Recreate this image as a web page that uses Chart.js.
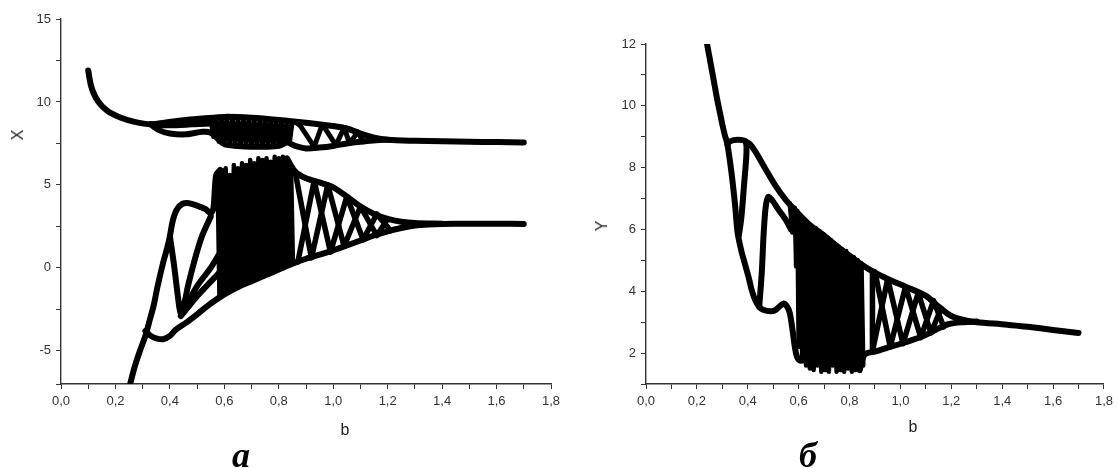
<!DOCTYPE html>
<html>
<head>
<meta charset="utf-8">
<script src="https://cdn.jsdelivr.net/npm/chart.js@4.4.1/dist/chart.umd.min.js"></script>
<style>
  html, body { margin: 0; padding: 0; background: #fff; }
  body { width: 1118px; height: 468px; position: relative; overflow: hidden; font-family: 'Liberation Sans', Arial, sans-serif; }
  .box { position: absolute; top: 0; height: 468px; }
  #boxX { left: 0; width: 600px; }
  #boxY { left: 560px; width: 558px; }
  .lbl { position: absolute; color: #222; font-size: 16px; line-height: 1; transform: translate(-50%, -50%); }
  .rot { transform: translate(-50%, -50%) rotate(-90deg); }
  .cap { position: absolute; font-family: 'Liberation Serif', 'DejaVu Serif', serif; font-weight: bold; font-style: italic; font-size: 36px; line-height: 1; transform: translateX(-50%); }
</style>
</head>
<body>
<div class="box" id="boxX"><canvas id="chartX" width="600" height="468"></canvas></div>
<div class="box" id="boxY"><canvas id="chartY" width="558" height="468"></canvas></div>
<span class="lbl rot" style="left:18px; top:135px;">X</span>
<span class="lbl" style="left:345px; top:430px;">b</span>
<span class="lbl rot" style="left:602px; top:226px;">Y</span>
<span class="lbl" style="left:913px; top:427px;">b</span>
<span class="cap" style="left:241px; top:437px;">а</span>
<span class="cap" style="left:808px; top:437px;">б</span>
<script>
// ---- X(b) branches, pairs of [b, X] ----
const xStem = [[0.10,11.9],[0.105,11.4],[0.11,11.0],[0.118,10.6],[0.13,10.2],[0.145,9.85],[0.16,9.6],[0.18,9.35],[0.22,9.05],[0.27,8.8],[0.33,8.65],[0.38,8.75],[0.45,8.9],[0.52,9.0],[0.6,9.1],[0.7,9.05],[0.8,8.92],[0.9,8.75],[1.0,8.55],[1.05,8.4],[1.1,8.1],[1.15,7.85],[1.2,7.72],[1.3,7.66],[1.4,7.63],[1.5,7.6],[1.6,7.58],[1.7,7.56]];
const xUpperInner = [[0.33,8.65],[0.4,8.6],[0.48,8.65],[0.55,8.7],[0.6,8.7]];
const xUpperLow = [[0.33,8.65],[0.36,8.3],[0.4,8.1],[0.46,8.05],[0.52,8.2],[0.55,8.15],[0.575,7.8],[0.6,7.45],[0.65,7.35],[0.7,7.3],[0.75,7.3],[0.8,7.35],[0.83,7.55],[0.86,7.35],[0.9,7.2],[0.95,7.25],[1.0,7.35],[1.05,7.5],[1.1,7.6],[1.17,7.7],[1.2,7.72]];
const xUpperChaos = [[0.55,8.95],[0.56,7.9],[0.57,9.0],[0.58,7.6],[0.59,9.05],[0.6,7.45],[0.61,9.05],[0.62,7.4],[0.63,9.1],[0.64,7.38],[0.65,9.05],[0.66,7.35],[0.67,9.05],[0.68,7.35],[0.69,9.05],[0.7,7.3],[0.71,9.0],[0.72,7.3],[0.73,9.0],[0.74,7.3],[0.75,9.0],[0.76,7.3],[0.77,8.95],[0.78,7.32],[0.79,8.95],[0.8,7.35],[0.81,8.9],[0.82,7.45],[0.83,8.85],[0.84,7.55],[0.85,8.8]];
const xUpperCross = [[0.86,8.8],[0.88,8.55],[0.93,7.3],[0.96,8.65],[1.01,7.4],[1.04,8.45],[1.06,7.5],[1.09,8.2],[1.11,7.6]];

const xRise = [[0.254,-7],[0.27,-6.0],[0.29,-5.0],[0.31,-4.1],[0.325,-3.2],[0.34,-2.3],[0.355,-1.1],[0.375,0.3],[0.39,1.2],[0.40,1.9],[0.41,2.8],[0.425,3.5],[0.445,3.85],[0.47,3.9],[0.5,3.75],[0.53,3.55],[0.55,3.3],[0.56,3.6],[0.57,5.6],[0.585,5.9]];
const xVee = [[0.40,1.9],[0.415,0.2],[0.43,-1.8],[0.44,-2.8],[0.455,-2.0],[0.465,-1.2],[0.48,-0.2],[0.5,1.0],[0.52,2.0],[0.55,3.1]];
const xLowerEnv = [[0.31,-3.8],[0.33,-4.1],[0.35,-4.25],[0.375,-4.3],[0.40,-4.1],[0.42,-3.75],[0.46,-3.3],[0.5,-2.8],[0.55,-2.15],[0.6,-1.6],[0.65,-1.15],[0.7,-0.8],[0.75,-0.45],[0.8,-0.1],[0.85,0.25],[0.9,0.55],[0.95,0.8],[1.0,1.05],[1.05,1.35],[1.1,1.65],[1.15,1.95],[1.2,2.2],[1.25,2.4],[1.3,2.55],[1.35,2.62],[1.4,2.65],[1.5,2.66],[1.6,2.66],[1.7,2.65]];
const xBand1 = [[0.44,-2.9],[0.47,-2.3],[0.5,-1.7],[0.54,-1.0],[0.58,-0.3],[0.6,0.2]];
const xBand2 = [[0.45,-2.6],[0.5,-1.1],[0.55,0.0],[0.58,0.8]];
const xLowerChaos = [[0.575,5.7],[0.582,-1.7],[0.59,5.9],[0.597,-1.55],[0.605,6.0],[0.612,-1.5],[0.62,5.6],[0.627,-1.35],[0.635,6.2],[0.642,-1.25],[0.65,6.0],[0.657,-1.1],[0.665,6.3],[0.672,-1.0],[0.68,6.2],[0.687,-0.9],[0.695,6.5],[0.702,-0.8],[0.71,6.3],[0.717,-0.7],[0.725,6.6],[0.732,-0.6],[0.74,6.5],[0.747,-0.5],[0.755,6.6],[0.762,-0.4],[0.77,6.4],[0.777,-0.3],[0.785,6.7],[0.792,-0.15],[0.80,6.6],[0.807,-0.05],[0.815,6.7],[0.822,0.05],[0.83,6.5],[0.837,0.15],[0.845,6.1],[0.852,0.25]];
const xLowerTop = [[0.83,6.6],[0.86,5.8],[0.9,5.4],[0.95,5.15],[1.0,4.85],[1.05,4.3],[1.1,3.7],[1.15,3.25],[1.2,2.95],[1.25,2.78],[1.3,2.7],[1.4,2.66]];
const xCross1 = [[0.86,5.8],[0.92,0.6],[0.98,5.0],[1.04,1.3],[1.1,3.7],[1.16,1.95],[1.2,2.95]];
const xCross2 = [[0.87,0.35],[0.93,5.25],[0.99,0.95],[1.05,4.3],[1.11,1.7],[1.16,3.25],[1.21,2.25]];

// ---- Y(b) branches, pairs of [b, Y] ----
const yStem = [[0.24,12],[0.25,11.55],[0.26,11.1],[0.27,10.65],[0.28,10.2],[0.29,9.8],[0.30,9.4],[0.31,9.05],[0.32,8.75],[0.335,7.9],[0.35,6.8],[0.36,5.9],[0.375,5.3],[0.39,4.85],[0.405,4.4],[0.415,4.05],[0.43,3.7],[0.445,3.5],[0.46,3.4],[0.49,3.35],[0.51,3.4],[0.54,3.6],[0.555,3.5],[0.565,3.3],[0.575,2.8],[0.585,2.2],[0.595,1.85],[0.61,1.75],[0.625,1.8]];
const yVee = [[0.32,8.75],[0.33,8.85],[0.36,8.9],[0.39,8.85],[0.395,8.5],[0.385,7.4],[0.375,6.4],[0.365,5.8]];
const yHump = [[0.445,3.5],[0.455,4.6],[0.462,5.8],[0.47,6.7],[0.48,7.05],[0.49,7.0],[0.5,6.9],[0.52,6.65],[0.55,6.3],[0.57,6.0]];
const yTop = [[0.39,8.85],[0.41,8.75],[0.435,8.45],[0.47,7.95],[0.51,7.4],[0.55,6.95],[0.6,6.5],[0.65,6.1],[0.7,5.8],[0.76,5.4],[0.8,5.15],[0.85,4.85],[0.9,4.6],[0.95,4.4],[1.02,4.15],[1.1,3.85],[1.15,3.5],[1.2,3.2],[1.26,3.05],[1.3,3.0],[1.42,2.92],[1.5,2.85],[1.6,2.75],[1.7,2.65]];
const yLow = [[0.84,1.45],[0.855,1.9],[0.87,2.0],[0.9,2.05],[0.96,2.2],[1.02,2.35],[1.09,2.55],[1.15,2.8],[1.19,2.94],[1.25,3.0],[1.3,3.02]];
const yChaos = [[0.565,6.85],[0.575,5.9],[0.585,6.7],[0.59,4.8],[0.595,6.6],[0.6,2.2],[0.607,6.45],[0.614,1.8],[0.622,6.3],[0.629,1.6],[0.637,6.2],[0.644,1.5],[0.652,6.1],[0.659,1.45],[0.667,6.05],[0.674,1.6],[0.682,5.95],[0.689,1.4],[0.697,5.85],[0.704,1.45],[0.712,5.75],[0.719,1.4],[0.727,5.65],[0.734,1.6],[0.742,5.5],[0.749,1.4],[0.757,5.45],[0.764,1.45],[0.772,5.35],[0.779,1.4],[0.787,5.3],[0.794,1.5],[0.802,5.15],[0.809,1.4],[0.817,5.1],[0.824,1.45],[0.832,5.0],[0.839,1.5],[0.847,4.9],[0.854,1.6]];
const yCross1 = [[0.89,4.65],[0.89,2.05],[0.95,4.4],[1.01,2.3],[1.07,3.95],[1.12,2.65],[1.16,3.45]];
const yCross2 = [[0.9,4.62],[0.96,2.2],[1.02,4.15],[1.08,2.5],[1.13,3.7],[1.17,2.85]];

// axis ranges
const bRange = [0, 1.8];
const xRange = [-7, 15];
const yRange = [1, 12];

function series(pairs, width, tension) {
  return {
    data: pairs.map(p => ({ x: p[0], y: p[1] })),
    showLine: true,
    borderColor: '#000',
    backgroundColor: '#000',
    borderWidth: width,
    borderJoinStyle: 'round',
    borderCapStyle: 'round',
    pointRadius: 0,
    tension: tension
  };
}

const axisColor = '#333';
const tickFont = { family: "'Liberation Sans', Arial, sans-serif", size: 13 };

function bAxis() {
  return {
    type: 'linear',
    min: bRange[0], max: bRange[1],
    afterFit: s => { s.height = 40; },
    border: { display: true, color: axisColor, width: 1.4 },
    grid: { display: true, drawOnChartArea: false, drawTicks: true, tickLength: 5, tickColor: axisColor },
    ticks: {
      stepSize: 0.1, autoSkip: false, maxRotation: 0, padding: 5, color: '#333', font: tickFont,
      callback: v => (Math.round(v * 10) % 2 === 0) ? v.toFixed(1).replace('.', ',') : ''
    }
  };
}

function valueAxis(range, step, every, width) {
  return {
    type: 'linear',
    min: range[0], max: range[1],
    afterFit: s => { s.width = width; },
    border: { display: true, color: axisColor, width: 1.4 },
    grid: { display: true, drawOnChartArea: false, drawTicks: true, tickLength: 5, tickColor: axisColor },
    ticks: {
      stepSize: step, autoSkip: false, padding: 5, color: '#333', font: tickFont,
      callback: v => (Math.abs(v % every) < 1e-6) ? String(v) : ''
    }
  };
}

function makeChart(id, datasets, yAxis, padding) {
  return new Chart(document.getElementById(id), {
    type: 'scatter',
    data: { datasets: datasets },
    options: {
      responsive: false,
      animation: false,
      layout: { padding: padding },
      plugins: { legend: { display: false }, tooltip: { enabled: false } },
      scales: { x: bAxis(), y: yAxis }
    }
  });
}

makeChart('chartX', [
  series(xStem, 6, 0.3),
  series(xUpperInner, 6, 0.3),
  series(xUpperLow, 6, 0.3),
  series(xUpperChaos, 4.5, 0),
  series(xUpperCross, 5, 0),
  series(xRise, 6, 0.3),
  series(xVee, 6, 0.3),
  series(xLowerEnv, 6, 0.3),
  series(xBand1, 6, 0.3),
  series(xBand2, 6, 0.3),
  series(xLowerChaos, 4.5, 0),
  series(xLowerTop, 6, 0.3),
  series(xCross1, 5.5, 0),
  series(xCross2, 5.5, 0)
], valueAxis(xRange, 2.5, 5, 61), { left: 0, top: 19, right: 49, bottom: 44 });

makeChart('chartY', [
  series(yStem, 6, 0.3),
  series(yVee, 6, 0.3),
  series(yHump, 6, 0.3),
  series(yTop, 6, 0.3),
  series(yLow, 6, 0.3),
  series(yChaos, 4.5, 0),
  series(yCross1, 5.5, 0),
  series(yCross2, 5.5, 0)
], valueAxis(yRange, 1, 2, 86), { left: 0, top: 44, right: 13, bottom: 44 });
</script>
</body>
</html>
